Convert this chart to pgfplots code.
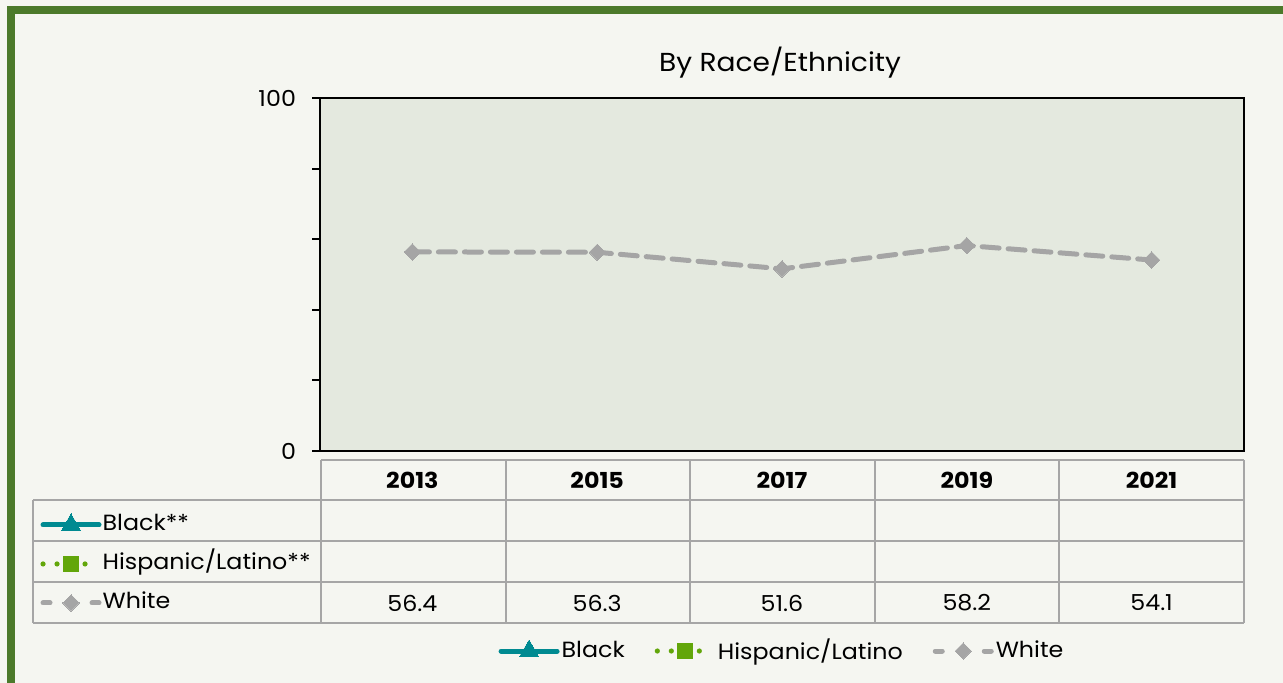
\documentclass[border=0pt]{standalone}
\usepackage{pgfplots}
\pgfplotsset{compat=1.18}
\usepackage{fontspec}
\setmainfont{Poppins}[FakeStretch=1.08]
\definecolor{frameg}{HTML}{4C7A2B}
\definecolor{bg}{HTML}{F5F6F1}
\definecolor{plotbg}{HTML}{E4E9DF}
\definecolor{teal2}{HTML}{008A91}
\definecolor{lgreen}{HTML}{62A60A}
\definecolor{wgray}{HTML}{A5A5A5}
\definecolor{gridc}{HTML}{A6A6A6}
\pgfplotsset{
  blackstyle/.style={teal2, line width=2.5pt, line cap=round, mark=triangle*, mark size=5.5pt, mark options={solid, fill=teal2, draw=teal2, line width=0pt}},
  hispstyle/.style={lgreen, line width=2.6pt, line cap=round, dash pattern=on 0pt off 7pt, mark=square*, mark size=3.7pt, mark options={solid, fill=lgreen, draw=lgreen, line width=0pt}},
  whitestyle/.style={wgray, line width=2.5pt, line cap=round, dash pattern=on 8.5pt off 4.5pt, mark=square*, mark size=2.9pt, mark options={rotate=45, solid, fill=wgray, draw=wgray, line width=0pt}},
  whiteglyph/.style={whitestyle, dash pattern=on 3.5pt off 21pt on 3.5pt off 10pt},
  glyph/.style={legend image code/.code={\draw[mark repeat=2,mark phase=2,##1] plot coordinates {(0pt,0pt)(14pt,0pt)(28pt,0pt)};}},
}
\begin{document}
\begin{tikzpicture}[font=\fontsize{11}{13}\selectfont]
\begin{scope}[x=0.5pt,y=0.5pt]
\clip (0,0) rectangle (1283,683);
\fill[bg] (0,0) rectangle (1283,683);
\draw[frameg, line width=4pt] (11,673) rectangle (1320,-40);
\begin{scope}[gridc, line width=1pt]
\draw (321,223) -- (1244,223);
\foreach \y in {183,142,101,60} \draw (33,\y) -- (1244,\y);
\foreach \x in {321,506,690,875,1059,1244} \draw (\x,223) -- (\x,60);
\draw (33,183) -- (33,60);
\end{scope}
\node[font=\fontsize{13}{15}\selectfont] at (780,620) {By Race/Ethnicity};
\end{scope}
\begin{axis}[at={(160pt,116pt)}, anchor=south west, scale only axis,
  width=462pt, height=176.5pt,
  xmin=-0.5, xmax=4.5, ymin=0, ymax=100, clip=false,
  font=\fontsize{11}{13}\selectfont,
  /pgf/number format/assume math mode=true,
  axis background/.style={fill=plotbg},
  axis line style={black, line width=1pt},
  ytick={0,20,...,100}, yticklabels={0,,,,,100},
  ytick pos=left, tick align=outside, major tick length=4pt,
  ytick style={black, line width=1pt},
  yticklabel style={xshift=-4.5pt},
  xtick={0,...,4}, xticklabels={2013,2015,2017,2019,2021},
  xtick style={draw=none},
  xticklabel style={font=\fontsize{11}{13}\selectfont\bfseries, yshift=-3pt},
  glyph,
  legend style={at={(axis description cs:0.5,-0.5666)}, anchor=center, draw=none, fill=none,
    legend columns=3, /tikz/every even column/.append style={column sep=14pt},
    nodes={inner sep=1pt}},
]
\addlegendimage{blackstyle}
\addlegendentry{Black}
\addlegendimage{hispstyle}
\addlegendentry{Hispanic/Latino}
\addlegendimage{whiteglyph}
\addlegendentry{White}
\addplot[whitestyle, forget plot] coordinates {(0,56.4)(1,56.3)(2,51.6)(3,58.2)(4,54.1)};
\addplot[draw=none, mark=none, nodes near coords, point meta=explicit symbolic,
  every node near coord/.style={anchor=center, black, font=\fontsize{11}{13}\selectfont}, forget plot]
  coordinates {(0,-43.06)[56.4] (1,-43.06)[56.3] (2,-43.06)[51.6] (3,-43.06)[58.2] (4,-43.06)[54.1]};
\end{axis}
\begin{axis}[at={(160pt,116pt)}, anchor=south west, scale only axis,
  width=462pt, height=176.5pt, hide axis,
  xmin=0, xmax=1, ymin=0, ymax=1,
  font=\fontsize{11}{13}\selectfont,
  glyph,
  legend cell align=left,
  legend style={at={(axis description cs:-0.3095,-0.320)}, anchor=west, draw=none, fill=none,
    row sep=8pt, nodes={inner sep=0.5pt, text height=8pt, text depth=2.5pt}},
]
\addlegendimage{blackstyle}
\addlegendentry{Black**}
\addlegendimage{hispstyle}
\addlegendentry{Hispanic/Latino**}
\addlegendimage{whiteglyph}
\addlegendentry{White}
\end{axis}
\end{tikzpicture}
\end{document}
